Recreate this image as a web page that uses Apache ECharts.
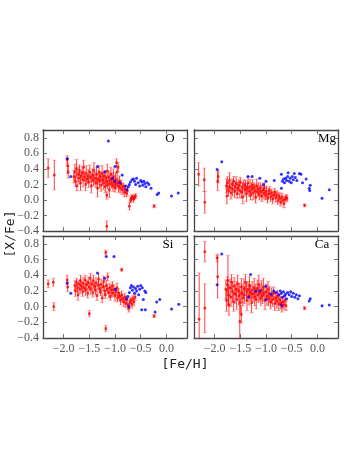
<!DOCTYPE html>
<html>
<head>
<meta charset="utf-8">
<script src="https://cdn.jsdelivr.net/npm/echarts@6/dist/echarts.min.js"></script>
<style>
  html, body { margin: 0; padding: 0; background: #fff; }
  #chart { width: 357px; height: 463px; }
</style>
</head>
<body>
<div id="chart"></div>
<script>
// [Fe/H] ticks and [X/Fe] ticks
const xTicks = [-2.0, -1.5, -1.0, -0.5, 0.0];
const yTicks = [-0.4, -0.2, 0.0, 0.2, 0.4, 0.6, 0.8];
const panelNames = ["O", "Mg", "Si", "Ca"];

// red: [Fe/H], [X/Fe], error ; blue: [Fe/H], [X/Fe]
const oRed = [
  [-2.30,0.41,0.12],[-2.18,0.32,0.19],[-1.93,0.52,0.05],[-1.92,0.44,0.10],[-1.91,0.36,0.08],
  [-1.80,0.30,0.08],[-1.78,0.36,0.10],[-1.77,0.24,0.07],[-1.75,0.40,0.12],[-1.74,0.18,0.06],
  [-1.72,0.33,0.09],[-1.70,0.28,0.08],[-1.69,0.38,0.07],[-1.67,0.22,0.10],[-1.66,0.31,0.06],
  [-1.64,0.35,0.08],[-1.62,0.26,0.09],[-1.61,0.42,0.09],[-1.59,0.30,0.07],[-1.57,0.20,0.08],
  [-1.56,0.34,0.10],[-1.54,0.27,0.06],[-1.52,0.31,0.08],[-1.51,0.23,0.07],[-1.49,0.36,0.09],
  [-1.47,0.29,0.06],[-1.46,0.18,0.09],[-1.44,0.32,0.08],[-1.42,0.25,0.07],[-1.41,0.38,0.10],
  [-1.39,0.28,0.08],[-1.37,0.22,0.06],[-1.36,0.33,0.09],[-1.34,0.15,0.11],[-1.33,0.27,0.07],
  [-1.31,0.36,0.08],[-1.30,0.24,0.09],[-1.28,0.30,0.06],[-1.27,0.19,0.08],[-1.25,0.34,0.10],
  [-1.24,0.26,0.07],[-1.22,0.22,0.09],[-1.21,0.31,0.06],[-1.19,0.17,0.08],[-1.18,0.28,0.10],
  [-1.16,0.24,0.07],[-1.15,0.37,0.09],[-1.14,0.20,0.06],[-1.12,0.29,0.08],[-1.11,0.13,0.10],
  [-1.10,0.25,0.07],[-1.08,0.33,0.09],[-1.07,0.21,0.06],[-1.06,0.27,0.08],[-1.04,0.18,0.07],
  [-1.03,0.30,0.10],[-1.02,0.23,0.08],[-1.00,0.16,0.06],[-0.99,0.26,0.09],[-0.98,0.20,0.07],
  [-0.97,0.48,0.05],[-0.96,0.36,0.08],[-0.95,0.22,0.06],[-0.94,0.42,0.06],[-0.93,0.18,0.08],
  [-0.91,0.24,0.07],[-0.90,0.15,0.06],[-0.88,0.20,0.05],[-0.86,0.13,0.06],[-0.84,0.17,0.05],
  [-0.82,0.10,0.06],[-0.80,0.14,0.05],[-0.78,0.09,0.05],[-0.76,0.12,0.06],[-1.16,0.06,0.05],
  [-1.16,-0.34,0.07],[-0.72,-0.08,0.05],[-0.70,0.00,0.04],[-0.68,0.02,0.04],[-0.66,0.04,0.03],
  [-0.64,0.01,0.04],[-0.62,0.03,0.03],[-0.60,0.05,0.03],[-0.24,-0.08,0.02]
];
const oBlue = [
  [-1.93,0.53],[-1.86,0.30],[-1.34,0.43],[-1.20,0.36],[-1.13,0.76],[-1.00,0.43],[-1.05,0.28],
  [-1.00,0.24],[-0.86,0.32],[-0.90,0.22],[-0.77,0.13],[-0.74,0.17],[-0.72,0.20],[-0.70,0.23],
  [-0.67,0.26],[-0.64,0.27],[-0.62,0.24],[-0.60,0.20],[-0.58,0.28],[-0.55,0.22],[-0.52,0.18],
  [-0.50,0.25],[-0.48,0.23],[-0.46,0.19],[-0.44,0.24],[-0.42,0.21],[-0.40,0.17],[-0.37,0.22],
  [-0.34,0.20],[-0.30,0.15],[-0.18,0.07],[-0.15,0.09],[0.10,0.05],[0.23,0.09],[-0.80,0.18]
];

const mgRed = [
  [-2.31,0.33,0.15],[-2.20,0.26,0.15],[-2.19,-0.03,0.14],[-1.94,0.24,0.12],[-1.93,0.30,0.08],
  [-1.77,0.18,0.09],[-1.76,0.05,0.10],[-1.75,0.22,0.08],[-1.73,0.12,0.07],[-1.71,0.25,0.10],
  [-1.70,0.16,0.06],[-1.68,0.09,0.08],[-1.66,0.20,0.07],[-1.65,0.14,0.09],[-1.63,0.24,0.06],
  [-1.61,0.11,0.08],[-1.60,0.17,0.07],[-1.58,0.21,0.09],[-1.56,0.08,0.06],[-1.55,0.15,0.08],
  [-1.53,0.19,0.07],[-1.51,0.12,0.09],[-1.50,0.23,0.06],[-1.48,0.10,0.08],[-1.46,0.16,0.07],
  [-1.45,0.04,0.09],[-1.43,0.20,0.06],[-1.41,0.13,0.08],[-1.40,0.18,0.07],[-1.38,0.08,0.10],
  [-1.36,0.15,0.06],[-1.35,0.22,0.08],[-1.33,0.11,0.07],[-1.31,0.17,0.09],[-1.30,0.06,0.06],
  [-1.28,0.14,0.08],[-1.26,0.19,0.07],[-1.25,0.09,0.09],[-1.23,0.16,0.06],[-1.21,0.12,0.08],
  [-1.20,0.03,0.07],[-1.18,0.18,0.09],[-1.16,0.10,0.06],[-1.15,0.14,0.08],[-1.13,0.07,0.07],
  [-1.11,0.16,0.06],[-1.10,0.11,0.08],[-1.08,0.05,0.07],[-1.06,0.13,0.06],[-1.04,0.09,0.08],
  [-1.03,0.15,0.07],[-1.01,0.06,0.06],[-0.99,0.11,0.07],[-0.97,0.02,0.06],[-0.95,0.08,0.07],
  [-0.93,0.12,0.05],[-0.91,0.04,0.06],[-0.89,0.09,0.05],[-0.87,0.01,0.06],[-0.85,0.06,0.05],
  [-0.83,0.10,0.05],[-0.81,0.03,0.06],[-0.79,0.07,0.05],[-0.77,-0.01,0.05],[-0.75,0.05,0.05],
  [-0.73,0.02,0.06],[-0.71,-0.03,0.05],[-0.69,0.04,0.05],[-0.67,0.00,0.04],[-0.65,-0.05,0.05],
  [-0.63,0.01,0.04],[-0.61,0.03,0.04],[-0.59,0.02,0.04],[-0.25,-0.07,0.02]
];
const mgBlue = [
  [-1.95,0.39],[-1.86,0.49],[-1.35,0.30],[-1.27,0.30],[-1.12,0.28],[-1.00,0.24],[-0.84,0.25],
  [-0.70,0.33],[-0.70,0.15],[-0.68,0.24],[-0.66,0.27],[-0.64,0.22],[-0.62,0.28],[-0.60,0.25],
  [-0.58,0.30],[-0.57,0.35],[-0.55,0.24],[-0.53,0.28],[-0.51,0.22],[-0.49,0.30],[-0.47,0.26],
  [-0.45,0.34],[-0.43,0.29],[-0.40,0.25],[-0.35,0.34],[-0.32,0.33],[-0.29,0.22],[-0.22,0.27],
  [-0.16,0.15],[-0.14,0.19],[-0.15,0.12],[0.09,0.02],[0.23,0.13],[-1.05,0.20]
];

const siRed = [
  [-2.30,0.29,0.05],[-2.20,0.31,0.05],[-2.19,0.00,0.05],[-1.93,0.34,0.06],[-1.92,0.25,0.06],
  [-1.78,0.27,0.06],[-1.77,0.20,0.07],[-1.75,0.31,0.05],[-1.73,0.24,0.06],[-1.72,0.15,0.07],
  [-1.70,0.29,0.05],[-1.68,0.22,0.06],[-1.67,0.33,0.07],[-1.65,0.26,0.05],[-1.63,0.19,0.06],
  [-1.62,0.30,0.07],[-1.60,0.24,0.05],[-1.58,0.34,0.06],[-1.57,0.21,0.07],[-1.55,0.28,0.05],
  [-1.53,0.17,0.06],[-1.52,0.31,0.07],[-1.50,0.25,0.05],[-1.48,0.36,0.06],[-1.47,0.22,0.07],
  [-1.45,0.29,0.05],[-1.43,0.18,0.06],[-1.42,0.33,0.07],[-1.40,0.26,0.05],[-1.38,0.21,0.06],
  [-1.37,0.30,0.07],[-1.35,0.14,0.06],[-1.33,0.27,0.05],[-1.32,0.35,0.07],[-1.30,0.23,0.06],
  [-1.28,0.19,0.05],[-1.27,0.28,0.07],[-1.25,0.11,0.06],[-1.23,0.25,0.05],[-1.22,0.32,0.07],
  [-1.20,0.20,0.06],[-1.19,0.15,0.05],[-1.17,0.27,0.07],[-1.15,0.22,0.06],[-1.14,0.38,0.05],
  [-1.12,0.18,0.07],[-1.10,0.24,0.06],[-1.09,0.13,0.05],[-1.07,0.21,0.07],[-1.05,0.26,0.06],
  [-1.04,0.17,0.05],[-1.02,0.22,0.06],[-1.00,0.14,0.07],[-0.98,0.19,0.05],[-0.96,0.24,0.06],
  [-0.95,0.11,0.05],[-0.93,0.17,0.06],[-0.91,0.13,0.05],[-0.89,0.08,0.06],[-0.87,0.15,0.05],
  [-0.85,0.10,0.05],[-0.83,0.06,0.06],[-0.81,0.12,0.05],[-0.79,0.04,0.05],[-0.77,0.09,0.05],
  [-0.75,0.02,0.06],[-0.73,-0.02,0.05],[-0.71,0.05,0.05],[-0.69,0.08,0.04],[-0.67,0.03,0.05],
  [-0.65,0.10,0.04],[-0.63,0.06,0.05],[-0.61,0.12,0.04],
  [-1.50,-0.09,0.04],[-1.18,-0.28,0.04],[-1.18,0.69,0.03],[-0.87,0.47,0.02],[-0.24,-0.12,0.02]
];
const siBlue = [
  [-1.93,0.30],[-1.86,0.17],[-1.34,0.43],[-1.20,0.36],[-1.17,0.64],[-1.02,0.64],[-0.99,0.22],
  [-0.73,0.00],[-0.72,0.18],[-0.70,0.24],[-0.68,0.27],[-0.66,0.21],[-0.64,0.25],[-0.62,0.17],
  [-0.60,0.23],[-0.58,0.20],[-0.56,0.26],[-0.54,0.15],[-0.52,0.22],[-0.50,0.27],[-0.48,-0.04],
  [-0.47,0.24],[-0.45,0.09],[-0.42,0.20],[-0.40,0.18],[-0.41,-0.04],[-0.22,-0.07],[-0.19,0.06],
  [-0.13,0.09],[0.10,-0.03],[0.24,0.03],[-0.75,0.13],[-0.78,0.10]
];

const caRed = [
  [-2.30,-0.16,0.59],[-2.19,0.70,0.13],[-2.19,-0.02,0.31],[-1.94,0.38,0.27],[-1.95,0.62,0.05],
  [-1.74,0.33,0.32],[-1.51,-0.19,0.28],[-1.48,-0.10,0.11],
  [-1.78,0.22,0.12],[-1.77,0.08,0.14],[-1.75,0.28,0.10],[-1.73,0.15,0.12],[-1.72,0.02,0.13],
  [-1.70,0.24,0.11],[-1.68,0.12,0.12],[-1.67,0.31,0.10],[-1.65,0.19,0.13],[-1.63,0.06,0.12],
  [-1.62,0.26,0.11],[-1.60,0.16,0.12],[-1.58,0.22,0.10],[-1.57,0.09,0.13],[-1.55,0.29,0.11],
  [-1.53,0.14,0.12],[-1.52,0.20,0.10],[-1.50,0.05,0.13],[-1.48,0.25,0.11],
  [-1.47,0.17,0.12],[-1.45,0.11,0.10],[-1.43,0.23,0.12],[-1.42,0.15,0.11],[-1.40,0.31,0.10],
  [-1.38,0.19,0.12],[-1.37,0.08,0.13],[-1.35,0.22,0.10],[-1.33,0.14,0.12],[-1.32,0.27,0.11],
  [-1.30,0.18,0.10],[-1.28,0.05,0.13],[-1.27,0.21,0.11],[-1.25,0.16,0.10],[-1.23,0.24,0.12],
  [-1.22,0.12,0.11],[-1.20,0.19,0.10],[-1.19,0.09,0.12],[-1.17,0.23,0.11],[-1.15,0.15,0.10],
  [-1.14,0.28,0.12],[-1.12,0.18,0.11],[-1.10,0.11,0.10],[-1.09,0.21,0.12],[-1.07,0.14,0.10],
  [-1.05,0.25,0.11],[-1.04,0.17,0.10],[-1.02,0.08,0.12],[-1.00,0.19,0.10],[-0.98,0.13,0.11],
  [-0.96,0.22,0.10],[-0.95,0.10,0.09],[-0.93,0.16,0.10],[-0.91,0.06,0.09],[-0.89,0.14,0.10],
  [-0.87,0.09,0.09],[-0.85,0.17,0.08],[-0.83,0.04,0.09],[-0.81,0.11,0.08],[-0.79,0.07,0.09],
  [-0.77,0.13,0.08],[-0.75,0.03,0.08],[-0.73,0.09,0.07],[-0.71,0.05,0.08],[-0.69,0.00,0.07],
  [-0.67,0.06,0.07],[-0.65,0.02,0.06],[-0.63,0.08,0.06],[-0.61,0.01,0.06],[-0.25,-0.02,0.02]
];
const caBlue = [
  [-1.95,0.28],[-1.86,0.67],[-1.30,0.41],[-1.34,0.12],[-1.20,0.20],[-1.12,0.20],[-1.00,0.26],
  [-1.00,0.09],[-0.90,0.16],[-0.85,0.20],[-0.80,0.18],[-0.75,0.15],[-0.72,0.20],[-0.70,0.17],
  [-0.68,0.12],[-0.66,0.19],[-0.64,0.14],[-0.62,0.16],[-0.60,0.10],[-0.58,0.18],[-0.55,0.15],
  [-0.52,0.19],[-0.50,0.13],[-0.47,0.17],[-0.44,0.12],[-0.41,0.15],[-0.38,0.10],[-0.35,0.14],
  [-0.16,0.07],[-0.14,0.10],[0.09,0.01],[0.23,0.02],[-0.70,0.02]
];

const redSets = [oRed, mgRed, siRed, caRed];
const blueSets = [oBlue, mgBlue, siBlue, caBlue];

const chart = echarts.init(document.getElementById("chart"));

const frame = "#444";
const tickCol = "#555";
const serif = "Liberation Serif";
const fmt = (v) => (v < 0 ? "\u2212" : "") + Math.abs(v).toFixed(1);

// panel boxes
const boxes = [
  { left: 43, top: 130, width: 144, height: 101 },
  { left: 194, top: 130, width: 144, height: 101 },
  { left: 43, top: 236, width: 144, height: 102 },
  { left: 194, top: 236, width: 144, height: 102 },
];

const grids = [], xAxes = [], yAxes = [], series = [];

boxes.forEach((b, i) => {
  grids.push(Object.assign({ containLabel: false }, b));
  const showX = i >= 2, showY = i % 2 === 0;
  const base = {
    gridIndex: i,
    type: "value",
    splitLine: { show: false },
    axisLine: { show: true, onZero: false, lineStyle: { color: frame, width: 1.3 } },
    axisTick: { show: true, inside: true, length: 4, lineStyle: { color: tickCol, width: 0.8 } },
  };
  // bottom/left axes carry the data, top/right only ticks
  xAxes.push(Object.assign({}, base, {
    position: "bottom", min: -2.4, max: 0.4,
    axisTick: Object.assign({}, base.axisTick, { customValues: xTicks }),
    axisLabel: { show: showX, customValues: xTicks, formatter: fmt, color: tickCol,
      fontFamily: serif, fontSize: 12, margin: 5 },
  }));
  xAxes.push(Object.assign({}, base, {
    position: "top", min: -2.4, max: 0.4,
    axisTick: Object.assign({}, base.axisTick, { customValues: xTicks }),
    axisLabel: { show: false, customValues: xTicks },
  }));
  yAxes.push(Object.assign({}, base, {
    position: "left", min: -0.4, max: 0.9,
    axisTick: Object.assign({}, base.axisTick, { customValues: yTicks }),
    axisLabel: { show: showY, customValues: yTicks, formatter: fmt, color: tickCol,
      fontFamily: serif, fontSize: 12, margin: 4 },
  }));
  yAxes.push(Object.assign({}, base, {
    position: "right", min: -0.4, max: 0.9,
    axisTick: Object.assign({}, base.axisTick, { customValues: yTicks }),
    axisLabel: { show: false, customValues: yTicks },
  }));

  const xi = i * 2, yi = i * 2;
  // error bars
  series.push({
    type: "custom",
    xAxisIndex: xi, yAxisIndex: yi,
    clip: true,
    silent: true,
    data: redSets[i],
    renderItem: function (params, api) {
      const x = api.value(0), y = api.value(1), e = api.value(2);
      const p1 = api.coord([x, y + e]);
      const p2 = api.coord([x, y - e]);
      const c = 2;
      const bar = { stroke: "rgba(255,0,0,0.75)", lineWidth: 1 };
      const cap = { stroke: "rgba(255,60,60,0.4)", lineWidth: 1 };
      return {
        type: "group",
        children: [
          { type: "line", shape: { x1: p1[0], y1: p1[1], x2: p2[0], y2: p2[1] }, style: bar },
          { type: "line", shape: { x1: p1[0] - c, y1: p1[1], x2: p1[0] + c, y2: p1[1] }, style: cap },
          { type: "line", shape: { x1: p2[0] - c, y1: p2[1], x2: p2[0] + c, y2: p2[1] }, style: cap },
        ],
      };
    },
    z: 2,
  });
  series.push({
    type: "scatter",
    xAxisIndex: xi, yAxisIndex: yi,
    data: redSets[i].map((d) => [d[0], d[1]]),
    symbol: "rect",
    symbolSize: 2.5,
    itemStyle: { color: "#ff0000" },
    silent: true,
    z: 3,
  });
  series.push({
    type: "scatter",
    xAxisIndex: xi, yAxisIndex: yi,
    data: blueSets[i],
    symbol: "circle",
    symbolSize: 3,
    itemStyle: { color: "#0000ff" },
    silent: true,
    z: 4,
  });
});

const labelPos = [[170, 139], [327, 139], [168, 245], [322, 245]];
const graphics = panelNames.map((n, i) => ({
  type: "text",
  x: labelPos[i][0], y: labelPos[i][1],
  style: { text: n, fill: "#000", font: "13px " + serif, align: "center", verticalAlign: "middle" },
}));
graphics.push({
  type: "text", x: 185, y: 365,
  style: { text: "[Fe/H]", fill: "#222", font: "13px 'DejaVu Sans Mono'", align: "center", verticalAlign: "middle" },
});
graphics.push({
  type: "text", x: 11, y: 234, rotation: Math.PI / 2,
  style: { text: "[X/Fe]", fill: "#222", font: "13px 'DejaVu Sans Mono'", align: "center", verticalAlign: "middle" },
});

chart.setOption({
  animation: false,
  backgroundColor: "#fff",
  grid: grids,
  xAxis: xAxes,
  yAxis: yAxes,
  series: series,
  graphic: graphics,
});
</script>
</body>
</html>
